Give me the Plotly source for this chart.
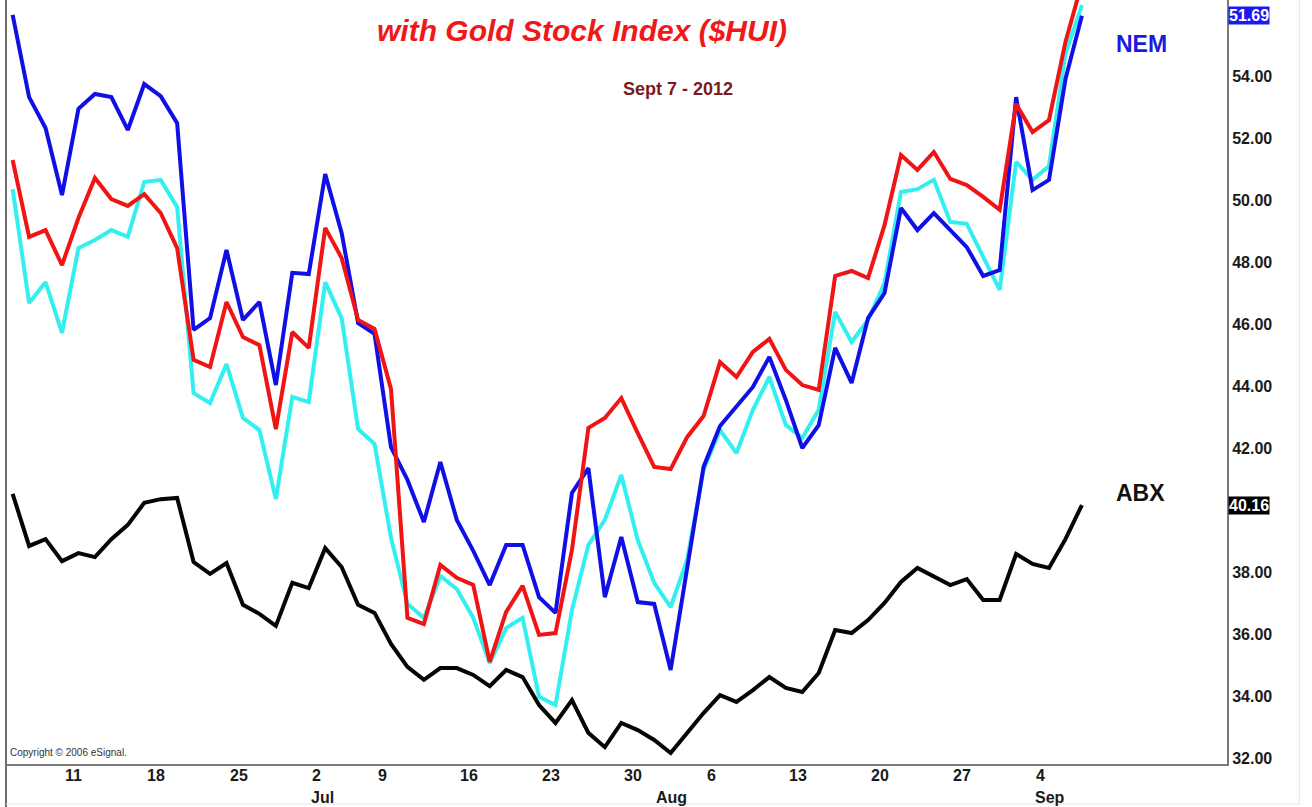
import pandas as pd
import plotly.graph_objects as go

# trading days shown (Jul 4 and Labor Day closed)
days = pd.bdate_range("2012-06-06", "2012-09-07")
days = [d.strftime("%Y-%m-%d") for d in days if d.strftime("%Y-%m-%d") not in ("2012-07-04", "2012-09-03")]

# values, in the units of the right-hand scale
nem = [55.97, 53.32, 52.32, 50.16, 52.94, 53.42, 53.32, 52.26, 53.74, 53.35,
       52.48, 45.81, 46.19, 48.39, 46.13, 46.71, 44.03, 47.65, 47.61, 50.84,
       48.94, 46.03, 45.68, 42.03, 40.97, 39.61, 41.55, 39.68, 38.68, 37.58,
       38.87, 38.87, 37.19, 36.68, 40.55, 41.35, 37.19, 39.13, 37.03, 36.97,
       34.84, 38.13, 41.39, 42.71, 43.35, 43.97, 44.94, 43.55, 42.00, 42.74,
       45.23, 44.10, 46.19, 47.00, 49.74, 49.03, 49.58, 49.03, 48.48, 47.55,
       47.74, 53.32, 50.32, 50.65, 53.90, 55.94]

hui = [51.29, 48.81, 49.03, 47.90, 49.42, 50.71, 50.03, 49.81, 50.19, 49.58,
       48.45, 44.84, 44.61, 46.71, 45.58, 45.32, 42.61, 45.74, 45.23, 49.10,
       48.13, 46.13, 45.84, 43.90, 36.52, 36.32, 38.23, 37.81, 37.58, 35.10,
       36.71, 37.55, 35.97, 36.03, 38.71, 42.65, 42.97, 43.61, 42.48, 41.39,
       41.32, 42.35, 43.03, 44.77, 44.29, 45.10, 45.52, 44.52, 44.03, 43.87,
       47.55, 47.71, 47.48, 49.19, 51.45, 50.97, 51.55, 50.68, 50.48, 50.10,
       49.68, 53.10, 52.19, 52.58, 55.10, 57.00]

cyan = [50.35, 46.68, 47.35, 45.71, 48.45, 48.71, 49.03, 48.81, 50.58, 50.65,
        49.77, 43.77, 43.45, 44.71, 42.97, 42.58, 40.35, 43.65, 43.48, 47.35,
        46.19, 42.61, 42.13, 39.10, 36.97, 36.52, 37.87, 37.45, 36.52, 35.06,
        36.19, 36.52, 33.97, 33.71, 36.77, 38.87, 39.68, 41.13, 39.03, 37.65,
        36.87, 38.39, 41.29, 42.58, 41.84, 43.23, 44.29, 42.74, 42.32, 43.23,
        46.39, 45.42, 46.13, 47.32, 50.26, 50.35, 50.65, 49.29, 49.23, 48.16,
        47.10, 51.23, 50.65, 51.10, 54.71, 56.29]

abx = [40.52, 38.84, 39.06, 38.35, 38.61, 38.48, 39.06, 39.52, 40.23, 40.35,
       40.39, 38.32, 37.94, 38.29, 36.94, 36.65, 36.26, 37.65, 37.48, 38.77,
       38.16, 36.94, 36.68, 35.68, 34.94, 34.52, 34.90, 34.90, 34.68, 34.32,
       34.84, 34.61, 33.71, 33.13, 33.87, 32.81, 32.35, 33.13, 32.90, 32.58,
       32.16, 32.81, 33.45, 34.03, 33.81, 34.19, 34.61, 34.26, 34.13, 34.74,
       36.13, 36.03, 36.45, 37.00, 37.68, 38.13, 37.84, 37.58, 37.77, 37.10,
       37.10, 38.58, 38.26, 38.13, 39.06, 40.16]

nem_last = "51.69"
abx_last = "40.16"

week_days = ["2012-06-11", "2012-06-18", "2012-06-25", "2012-07-02", "2012-07-09",
             "2012-07-16", "2012-07-23", "2012-07-30", "2012-08-06", "2012-08-13",
             "2012-08-20", "2012-08-27", "2012-09-04"]
week_labels = ["11", "18", "25", "2", "9", "16", "23", "30", "6", "13", "20", "27", "4"]
month_days = ["2012-07-02", "2012-08-01", "2012-09-04"]
month_labels = ["Jul", "Aug", "Sep"]

# 40.00 is covered by the ABX price tag
y_ticks = [32, 34, 36, 38, 42, 44, 46, 48, 50, 52, 54]

FONT = "Liberation Sans, Arial, sans-serif"

fig = go.Figure()
fig.add_trace(go.Scatter(x=days, y=cyan, mode="lines", name="cyan",
                         line=dict(color="#33efef", width=4)))
fig.add_trace(go.Scatter(x=days, y=abx, mode="lines", name="ABX",
                         line=dict(color="#050505", width=4)))
fig.add_trace(go.Scatter(x=days, y=nem, mode="lines", name="NEM",
                         line=dict(color="#1010e6", width=4)))
fig.add_trace(go.Scatter(x=days, y=hui, mode="lines", name="$HUI",
                         line=dict(color="#f01414", width=4)))

ann = []
for d, t in zip(week_days, week_labels):
    ann.append(dict(x=d, xref="x", y=-0.0157, yref="paper", text=t, showarrow=False,
                    xanchor="left", yanchor="middle", xshift=1,
                    font=dict(family=FONT, size=16, color="#1a1a1a", weight="bold")))
for d, t in zip(month_days, month_labels):
    ann.append(dict(x=d, xref="x", y=-0.0432, yref="paper", text=t, showarrow=False,
                    xanchor="left", yanchor="middle", xshift=0,
                    font=dict(family=FONT, size=16, color="#1a1a1a", weight="bold")))

# price tags on the right scale
ann.append(dict(x=1, xref="paper", y=nem[-1], yref="y", text=nem_last, showarrow=False,
                xanchor="left", yanchor="middle", xshift=1, bgcolor="#1a1af0", borderpad=0,
                font=dict(family=FONT, size=16, color="white", weight="bold")))
ann.append(dict(x=1, xref="paper", y=abx[-1], yref="y", text=abx_last, showarrow=False,
                xanchor="left", yanchor="middle", xshift=1, bgcolor="#000000", borderpad=0,
                font=dict(family=FONT, size=16, color="white", weight="bold")))

ann.append(dict(x=0.9296, xref="paper", y=0.9424, yref="paper", text="NEM", showarrow=False,
                xanchor="center", yanchor="middle",
                font=dict(family=FONT, size=23, color="#1a1ae0", weight="bold")))
ann.append(dict(x=0.9288, xref="paper", y=0.3547, yref="paper", text="ABX", showarrow=False,
                xanchor="center", yanchor="middle",
                font=dict(family=FONT, size=23, color="#111111", weight="bold")))

ann.append(dict(x=0.4717, xref="paper", y=0.9607, yref="paper",
                text="<i>with Gold Stock Index ($HUI)</i>", showarrow=False,
                xanchor="center", yanchor="middle",
                font=dict(family=FONT, size=30, color="#f01818", weight="bold")))
ann.append(dict(x=0.5504, xref="paper", y=0.8835, yref="paper", text="Sept 7 - 2012",
                showarrow=False, xanchor="center", yanchor="middle",
                font=dict(family=FONT, size=18, color="#7a1a1a", weight="bold")))
ann.append(dict(x=0.0016, xref="paper", y=0.0157, yref="paper", text="Copyright © 2006 eSignal.",
                showarrow=False, xanchor="left", yanchor="middle",
                font=dict(family=FONT, size=10, color="#333333")))

shapes = [
    # outer frame pieces
    dict(type="line", xref="paper", yref="paper", x0=0, x1=0, y0=-0.06, y1=1,
         line=dict(color="#6e6e6e", width=2)),
    dict(type="line", xref="paper", yref="paper", x0=1.0592, x1=1.0592, y0=-0.0523, y1=1,
         line=dict(color="#e4e4e4", width=1)),
    dict(type="line", xref="paper", yref="paper", x0=0, x1=1.0592, y0=-0.0523, y1=-0.0523,
         line=dict(color="#e4e4e4", width=1)),
]

fig.update_layout(
    width=1312, height=807,
    margin=dict(l=6, r=85, t=0, b=43),
    paper_bgcolor="white", plot_bgcolor="white",
    showlegend=False,
    annotations=ann,
    shapes=shapes,
    xaxis=dict(type="category", range=[-0.404, 73.82], showgrid=False, zeroline=False,
               showticklabels=False, ticks="", showline=True, linecolor="#7a7a7a", linewidth=2),
    yaxis=dict(side="right", range=[31.806, 56.452], tickvals=y_ticks, tickformat=".2f",
               showgrid=False, zeroline=False, ticks="", showline=True,
               linecolor="#7a7a7a", linewidth=2,
               tickfont=dict(family=FONT, size=16, color="#1a1a1a", weight="bold")),
)

fig.write_html("out.html", config={"displayModeBar": False},
               post_script="document.body.style.margin='0';")
